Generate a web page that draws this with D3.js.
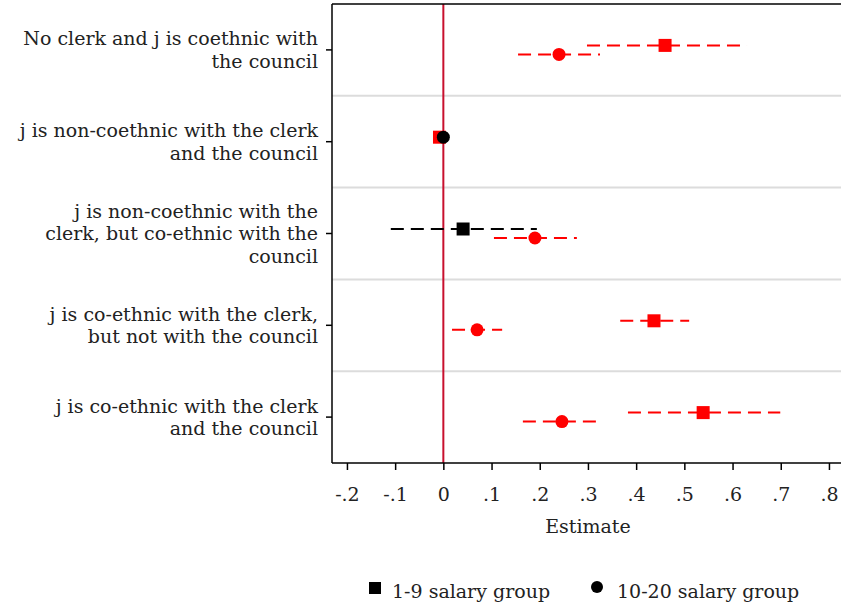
<!DOCTYPE html>
<html>
<head>
<meta charset="utf-8">
<script src="https://cdn.jsdelivr.net/npm/d3@7"></script>
<style>
	body { margin: 0; background: #fff; }
	text { fill: #222; }
</style>
</head>
<body>
<div id="chart"></div>
<script>

//Row labels (top to bottom), already split into lines as in the picture
var categories = [
	["No clerk and j is coethnic with", "the council"],
	["j is non-coethnic with the clerk", "and the council"],
	["j is non-coethnic with the", "clerk, but co-ethnic with the", "council"],
	["j is co-ethnic with the clerk,", "but not with the council"],
	["j is co-ethnic with the clerk", "and the council"]
];

//1-9 salary group (squares)
var lowEst = [0.46, -0.008, 0.041, 0.437, 0.539];
var lowLo  = [0.298, null, -0.109, 0.367, 0.383];
var lowHi  = [0.630, null, 0.194, 0.510, 0.699];
var lowSig = [true, true, false, true, true];

//10-20 salary group (circles)
var highEst = [0.240, 0.000, 0.190, 0.070, 0.246];
var highLo  = [0.155, null, 0.105, 0.018, 0.165];
var highHi  = [0.325, null, 0.277, 0.122, 0.319];
var highSig = [true, false, true, true, true];

var xTicks = [-0.2, -0.1, 0, 0.1, 0.2, 0.3, 0.4, 0.5, 0.6, 0.7, 0.8];
var legendLabels = ["1-9 salary group", "10-20 salary group"];

///////////////////////////////////////////////////////////////////////////
//////////////////////////////// Set up svg ///////////////////////////////
///////////////////////////////////////////////////////////////////////////

var W = 841, H = 608;
var margin = { top: 4, right: 0, bottom: 145, left: 332 };
var width = W - margin.left - margin.right;
var height = H - margin.top - margin.bottom;
var FONT = "'DejaVu Serif', serif";
var FS = "19px";

var svg = d3.select("#chart").append("svg")
	.attr("width", W)
	.attr("height", H)
	.style("font-family", FONT);

var g = svg.append("g")
	.attr("transform", "translate(" + margin.left + "," + margin.top + ")");

var x = d3.scaleLinear()
	.domain([-0.231, 0.825])
	.range([0, width]);

var y = d3.scaleBand()
	.domain(d3.range(categories.length))
	.range([0, height]);

var red = "#ff0000", offset = 4.5;

//Gridlines between rows
g.selectAll(".grid")
	.data(d3.range(1, categories.length))
	.enter().append("line")
	.attr("x1", 0).attr("x2", width)
	.attr("y1", function(d) { return y(d); })
	.attr("y2", function(d) { return y(d); })
	.style("stroke", "#dcdcdc")
	.style("stroke-width", 2);

//Zero line
g.append("line")
	.attr("x1", x(0)).attr("x2", x(0))
	.attr("y1", 0).attr("y2", height)
	.style("stroke", "#c8102e")
	.style("stroke-width", 2);

//Build the points (points without an interval sit on the upper offset)
var points = [];
categories.forEach(function(c, i) {
	points.push({ row: i, est: lowEst[i], lo: lowLo[i], hi: lowHi[i], sig: lowSig[i], shape: "square", dy: -offset });
	points.push({ row: i, est: highEst[i], lo: highLo[i], hi: highHi[i], sig: highSig[i], shape: "circle", dy: highLo[i] === null ? -offset : offset });
});

function cy(d) { return y(d.row) + y.bandwidth() / 2 + d.dy; }
function col(d) { return d.sig ? red : "#000"; }

//Confidence intervals
g.selectAll(".ci")
	.data(points.filter(function(d) { return d.lo !== null; }))
	.enter().append("line")
	.attr("class", "ci")
	.attr("x1", function(d) { return x(d.lo); })
	.attr("x2", function(d) { return x(d.hi); })
	.attr("y1", cy).attr("y2", cy)
	.style("stroke", col)
	.style("stroke-width", 2)
	.style("stroke-dasharray", "13,7");

//Markers
g.selectAll(".sq")
	.data(points.filter(function(d) { return d.shape === "square"; }))
	.enter().append("rect")
	.attr("x", function(d) { return x(d.est) - 6.5; })
	.attr("y", function(d) { return cy(d) - 6.5; })
	.attr("width", 13).attr("height", 13)
	.style("fill", col);

g.selectAll(".dot")
	.data(points.filter(function(d) { return d.shape === "circle"; }))
	.enter().append("circle")
	.attr("cx", function(d) { return x(d.est); })
	.attr("cy", cy)
	.attr("r", 6.5)
	.style("fill", col);

///////////////////////////////////////////////////////////////////////////
////////////////////////////////// Axes ///////////////////////////////////
///////////////////////////////////////////////////////////////////////////

//Frame: top line
g.append("line").attr("x1", 0).attr("x2", width).attr("y1", 0).attr("y2", 0)
	.style("stroke", "#000").style("stroke-width", 1.5);

var fmt = function(d) {
	if (Math.abs(d) < 1e-9) return "0";
	return d3.format(".1f")(d).replace("0.", ".").replace("−", "-");
};

var xAxis = g.append("g")
	.attr("transform", "translate(0," + height + ")")
	.call(d3.axisBottom(x).tickValues(xTicks).tickSize(7).tickPadding(18).tickFormat(fmt));
xAxis.attr("font-family", FONT).attr("font-size", 19);
xAxis.select(".domain").attr("d", "M0,0H" + width).style("stroke-width", 1.5);
xAxis.selectAll(".tick line").style("stroke-width", 1.5);
xAxis.selectAll("text").style("fill", "#222");

var yAxis = g.append("g")
	.call(d3.axisLeft(y).tickSize(6).tickFormat(""));
yAxis.select(".domain").attr("d", "M0,0V" + height).style("stroke-width", 1.5);
yAxis.selectAll(".tick line").style("stroke-width", 1.5);

//Row labels
var lineH = 22.5;
g.selectAll(".rowLabel")
	.data(categories)
	.enter().append("text")
	.attr("class", "rowLabel")
	.attr("text-anchor", "end")
	.style("font-size", FS)
	.each(function(d, i) {
		var t = d3.select(this);
		var c = y(i) + y.bandwidth() / 2;
		var start = c - (d.length - 1) * lineH / 2;
		d.forEach(function(line, j) {
			t.append("tspan")
				.attr("x", -14)
				.attr("y", start + j * lineH)
				.attr("dy", "0.35em")
				.text(line);
		});
	});

//Axis title
g.append("text")
	.attr("x", x(0.3))
	.attr("y", height + 70)
	.attr("text-anchor", "middle")
	.style("font-size", FS)
	.text("Estimate");

///////////////////////////////////////////////////////////////////////////
///////////////////////////////// Legend //////////////////////////////////
///////////////////////////////////////////////////////////////////////////

var legend = svg.append("g").attr("transform", "translate(0,594)");
legend.append("rect").attr("x", 369).attr("y", -12).attr("width", 12).attr("height", 12).style("fill", "#000");
legend.append("text").attr("x", 392).attr("y", 0).attr("dy", "0.2em").style("font-size", FS).text(legendLabels[0]);
legend.append("circle").attr("cx", 597).attr("cy", -7).attr("r", 6).style("fill", "#000");
legend.append("text").attr("x", 617).attr("y", 0).attr("dy", "0.2em").style("font-size", FS).text(legendLabels[1]);

</script>
</body>
</html>
